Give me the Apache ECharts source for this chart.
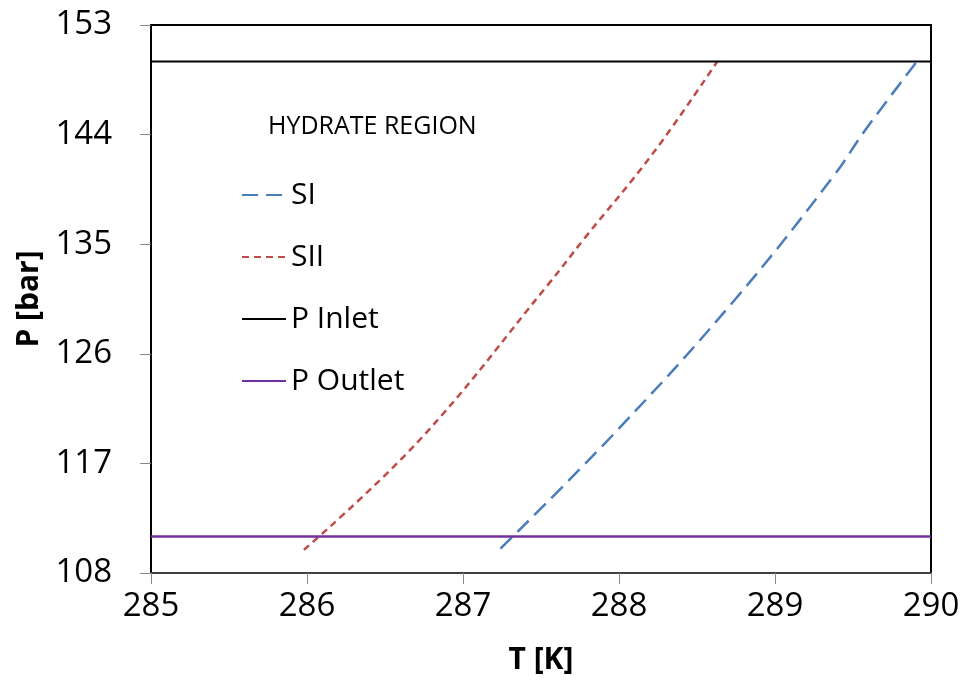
<!DOCTYPE html>
<html>
<head>
<meta charset="utf-8">
<script src="https://cdn.jsdelivr.net/npm/echarts@6/dist/echarts.min.js"></script>
<style>
  html, body { margin: 0; padding: 0; background: #fff; }
  #main { width: 964px; height: 684px; }
</style>
</head>
<body>
<div id="main"></div>
<script>
// hydrate equilibrium curves: [T (K), P (bar)]
var siCurve = [[287.24, 110.0], [287.98, 119.6], [288.74, 130.4], [289.37, 140.5], [289.58, 144.4], [289.91, 150.0]];
var siiCurve = [[285.98, 109.9], [286.72, 118.9], [287.54, 131.6], [287.78, 135.5], [288.22, 142.5], [288.63, 150.0]];
var tRange = [285, 290];
var pInlet = 150;
var pOutlet = 111;

var fontName = '"Open Sans", "Noto Sans", sans-serif';

var chartDom = document.getElementById('main');
var myChart = echarts.init(chartDom);

var option = {
  animation: false,
  backgroundColor: '#fff',
  grid: {
    left: 151, right: 33, top: 25, bottom: 111,
    show: true, borderColor: '#000', borderWidth: 2
  },
  graphic: [{
    type: 'text', left: 268, top: 114,
    style: { text: 'HYDRATE REGION', fontSize: 25, fontFamily: fontName, fill: '#000' }
  }],
  legend: {
    orient: 'vertical',
    left: 236, top: 175,
    itemWidth: 44, itemHeight: 14, itemGap: 32,
    itemStyle: { opacity: 0 },
    textStyle: { fontSize: 30, fontFamily: fontName, color: '#000', lineHeight: 29 },
    data: ['SI', 'SII', 'P Inlet', 'P Outlet']
  },
  xAxis: {
    type: 'value', min: 285, max: 290, interval: 1,
    name: 'T [K]', nameLocation: 'middle', nameGap: 72,
    nameTextStyle: { fontSize: 30, fontWeight: 'bold', fontFamily: fontName, color: '#000' },
    axisLine: { lineStyle: { color: '#404040', width: 2 } },
    axisTick: { length: 11, lineStyle: { color: '#888' } },
    axisLabel: { fontSize: 33, fontFamily: fontName, color: '#000', margin: 17 },
    splitLine: { show: false }
  },
  yAxis: {
    type: 'value', min: 108, max: 153, interval: 9,
    name: 'P [bar]', nameLocation: 'middle', nameGap: 107, nameRotate: 90,
    nameTextStyle: { fontSize: 30, fontWeight: 'bold', fontFamily: fontName, color: '#000' },
    axisLine: { show: true, lineStyle: { color: '#000', width: 2 } },
    axisTick: { show: true, length: 11, lineStyle: { color: '#888' } },
    axisLabel: { fontSize: 33, fontFamily: fontName, color: '#000', margin: 39 },
    splitLine: { show: false }
  },
  series: [
    {
      name: 'SI', type: 'line', symbol: 'none', smooth: 0.4, data: siCurve,
      lineStyle: { color: '#4A7EBB', width: 2.5, type: [16, 8] }, itemStyle: { color: '#4A7EBB' }
    },
    {
      name: 'SII', type: 'line', symbol: 'none', smooth: 0.4, data: siiCurve,
      lineStyle: { color: '#BE4B48', width: 2.5, type: [7, 5] }, itemStyle: { color: '#BE4B48' }
    },
    {
      name: 'P Inlet', type: 'line', symbol: 'none', data: [[tRange[0], pInlet], [tRange[1], pInlet]],
      lineStyle: { color: '#000', width: 2 }, itemStyle: { color: '#000' }
    },
    {
      name: 'P Outlet', type: 'line', symbol: 'none', data: [[tRange[0], pOutlet], [tRange[1], pOutlet]],
      lineStyle: { color: '#7030A0', width: 2.5 }, itemStyle: { color: '#7030A0' }
    }
  ]
};

option && myChart.setOption(option);
</script>
</body>
</html>
